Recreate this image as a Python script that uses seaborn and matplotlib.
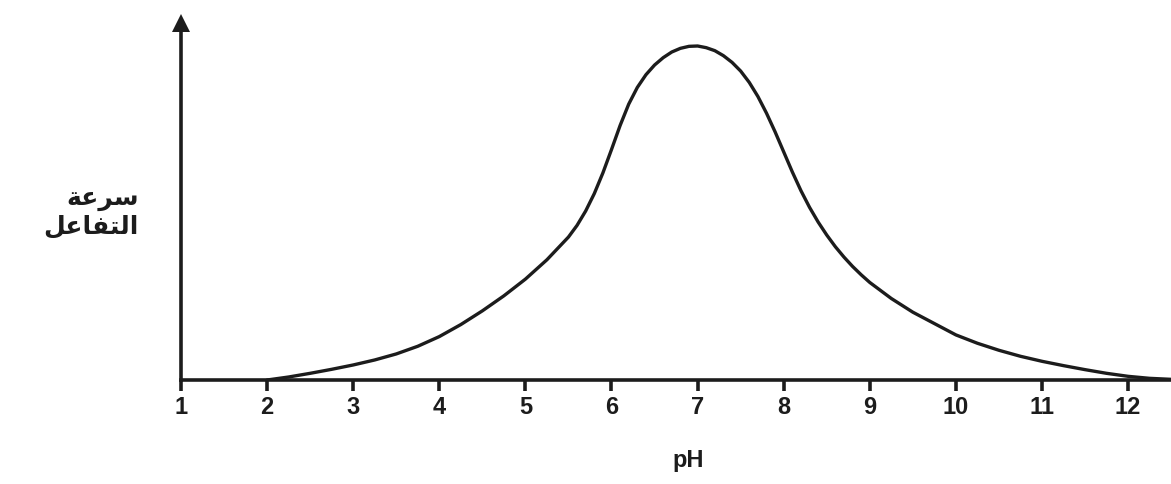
import matplotlib
matplotlib.use("Agg")
import matplotlib.pyplot as plt
import seaborn as sns

# ---- data ----
ph = [2.0, 2.25, 2.5, 2.75, 3.0, 3.25, 3.5, 3.75, 4.0, 4.25, 4.5, 4.75,
      5.0, 5.25, 5.5, 5.6, 5.7, 5.8, 5.9, 6.0, 6.1, 6.2, 6.3, 6.4, 6.5,
      6.6, 6.7, 6.8, 6.9, 7.0, 7.1, 7.2, 7.3, 7.4, 7.5, 7.6, 7.7, 7.8,
      7.9, 8.0, 8.1, 8.2, 8.3, 8.4, 8.5, 8.6, 8.7, 8.8, 8.9, 9.0, 9.25,
      9.5, 9.75, 10.0, 10.25, 10.5, 10.75, 11.0, 11.25, 11.5, 11.75,
      12.0, 12.25, 12.5]
rate = [0.0, 0.9, 2.0, 3.2, 4.5, 6.0, 7.8, 10.1, 13.0, 16.6, 20.7, 25.2,
        30.2, 36.0, 42.8, 46.3, 50.6, 55.8, 62.0, 69.0, 76.2, 82.6, 87.6,
        91.4, 94.3, 96.5, 98.2, 99.3, 99.9, 100.0, 99.5, 98.6, 97.1, 95.1,
        92.5, 89.1, 84.9, 79.9, 74.3, 68.3, 62.3, 56.7, 51.7, 47.3, 43.4,
        39.9, 36.8, 34.0, 31.5, 29.2, 24.4, 20.3, 16.9, 13.5, 11.0, 8.9,
        7.1, 5.6, 4.3, 3.1, 2.0, 1.1, 0.5, 0.2]
tick_values = [1, 2, 3, 4, 5, 6, 7, 8, 9, 10, 11, 12]
tick_labels = ["1", "2", "3", "4", "5", "6", "7", "8", "9", "10", "11", "12"]
x_label = "pH"
# Arabic "سرعة" / "التفاعل" written in shaped (presentation) forms, visual order
y_label_line1 = "\uFE94\uFECB\uFEAE\uFEB3"
y_label_line2 = "\uFEDE\uFECB\uFE8E\uFED4\uFE98\uFEDF\uFE8D"

sns.set_theme(style="white")
plt.rcParams['font.family'] = ['Liberation Sans', 'DejaVu Sans']

W, H = 1171, 485
fig = plt.figure(figsize=(W / 100, H / 100), dpi=100)
fig.patch.set_facecolor("white")
x0, y0 = 181, 381          # axis origin in pixels
top = 13
ax = fig.add_axes([x0 / W, (H - y0) / H, (W - x0) / W, (y0 - top) / H])
ax.set_facecolor("white")

ink = "#1c1c1c"
sns.lineplot(x=ph, y=rate, ax=ax, color=ink, linewidth=2.4, sort=True)

px_per_unit = 86.1
ax.set_xlim(1, 1 + (W - x0) / px_per_unit)
ax.set_ylim(0, 100 * (y0 - top) / 334)

for s in ["top", "right"]:
    ax.spines[s].set_visible(False)
for s in ["left", "bottom"]:
    ax.spines[s].set_color(ink)
    ax.spines[s].set_linewidth(2.6)
ax.spines["left"].set_bounds(0, 100 * (y0 - 30) / 334)

# arrow head on the y axis
ax.plot([0], [(y0 - 24) / (y0 - top)], marker="^", markersize=13, color=ink,
        transform=ax.transAxes, clip_on=False, markeredgewidth=0)

ax.set_xticks(tick_values, tick_labels)
ax.set_yticks([])
ax.tick_params(axis="x", bottom=True, direction="out", length=8, width=2.6,
               color=ink, pad=3, labelsize=17, labelcolor=ink)
for lbl in ax.get_xticklabels():
    lbl.set_fontweight("bold")

ax.set_xlabel(x_label, fontsize=17, fontweight="bold", color=ink)
ax.xaxis.set_label_coords((688 - x0) / (W - x0), (y0 - 449) / (y0 - top))
ax.set_ylabel("")

fig.text(139 / W, 1 - 199 / H, y_label_line1, ha="right", va="center",
         fontsize=18, fontweight="bold", color=ink, family=["DejaVu Sans"])
fig.text(139 / W, 1 - 226 / H, y_label_line2, ha="right", va="center",
         fontsize=18, fontweight="bold", color=ink, family=["DejaVu Sans"])

fig.savefig("out.png", dpi=100, facecolor="white")
